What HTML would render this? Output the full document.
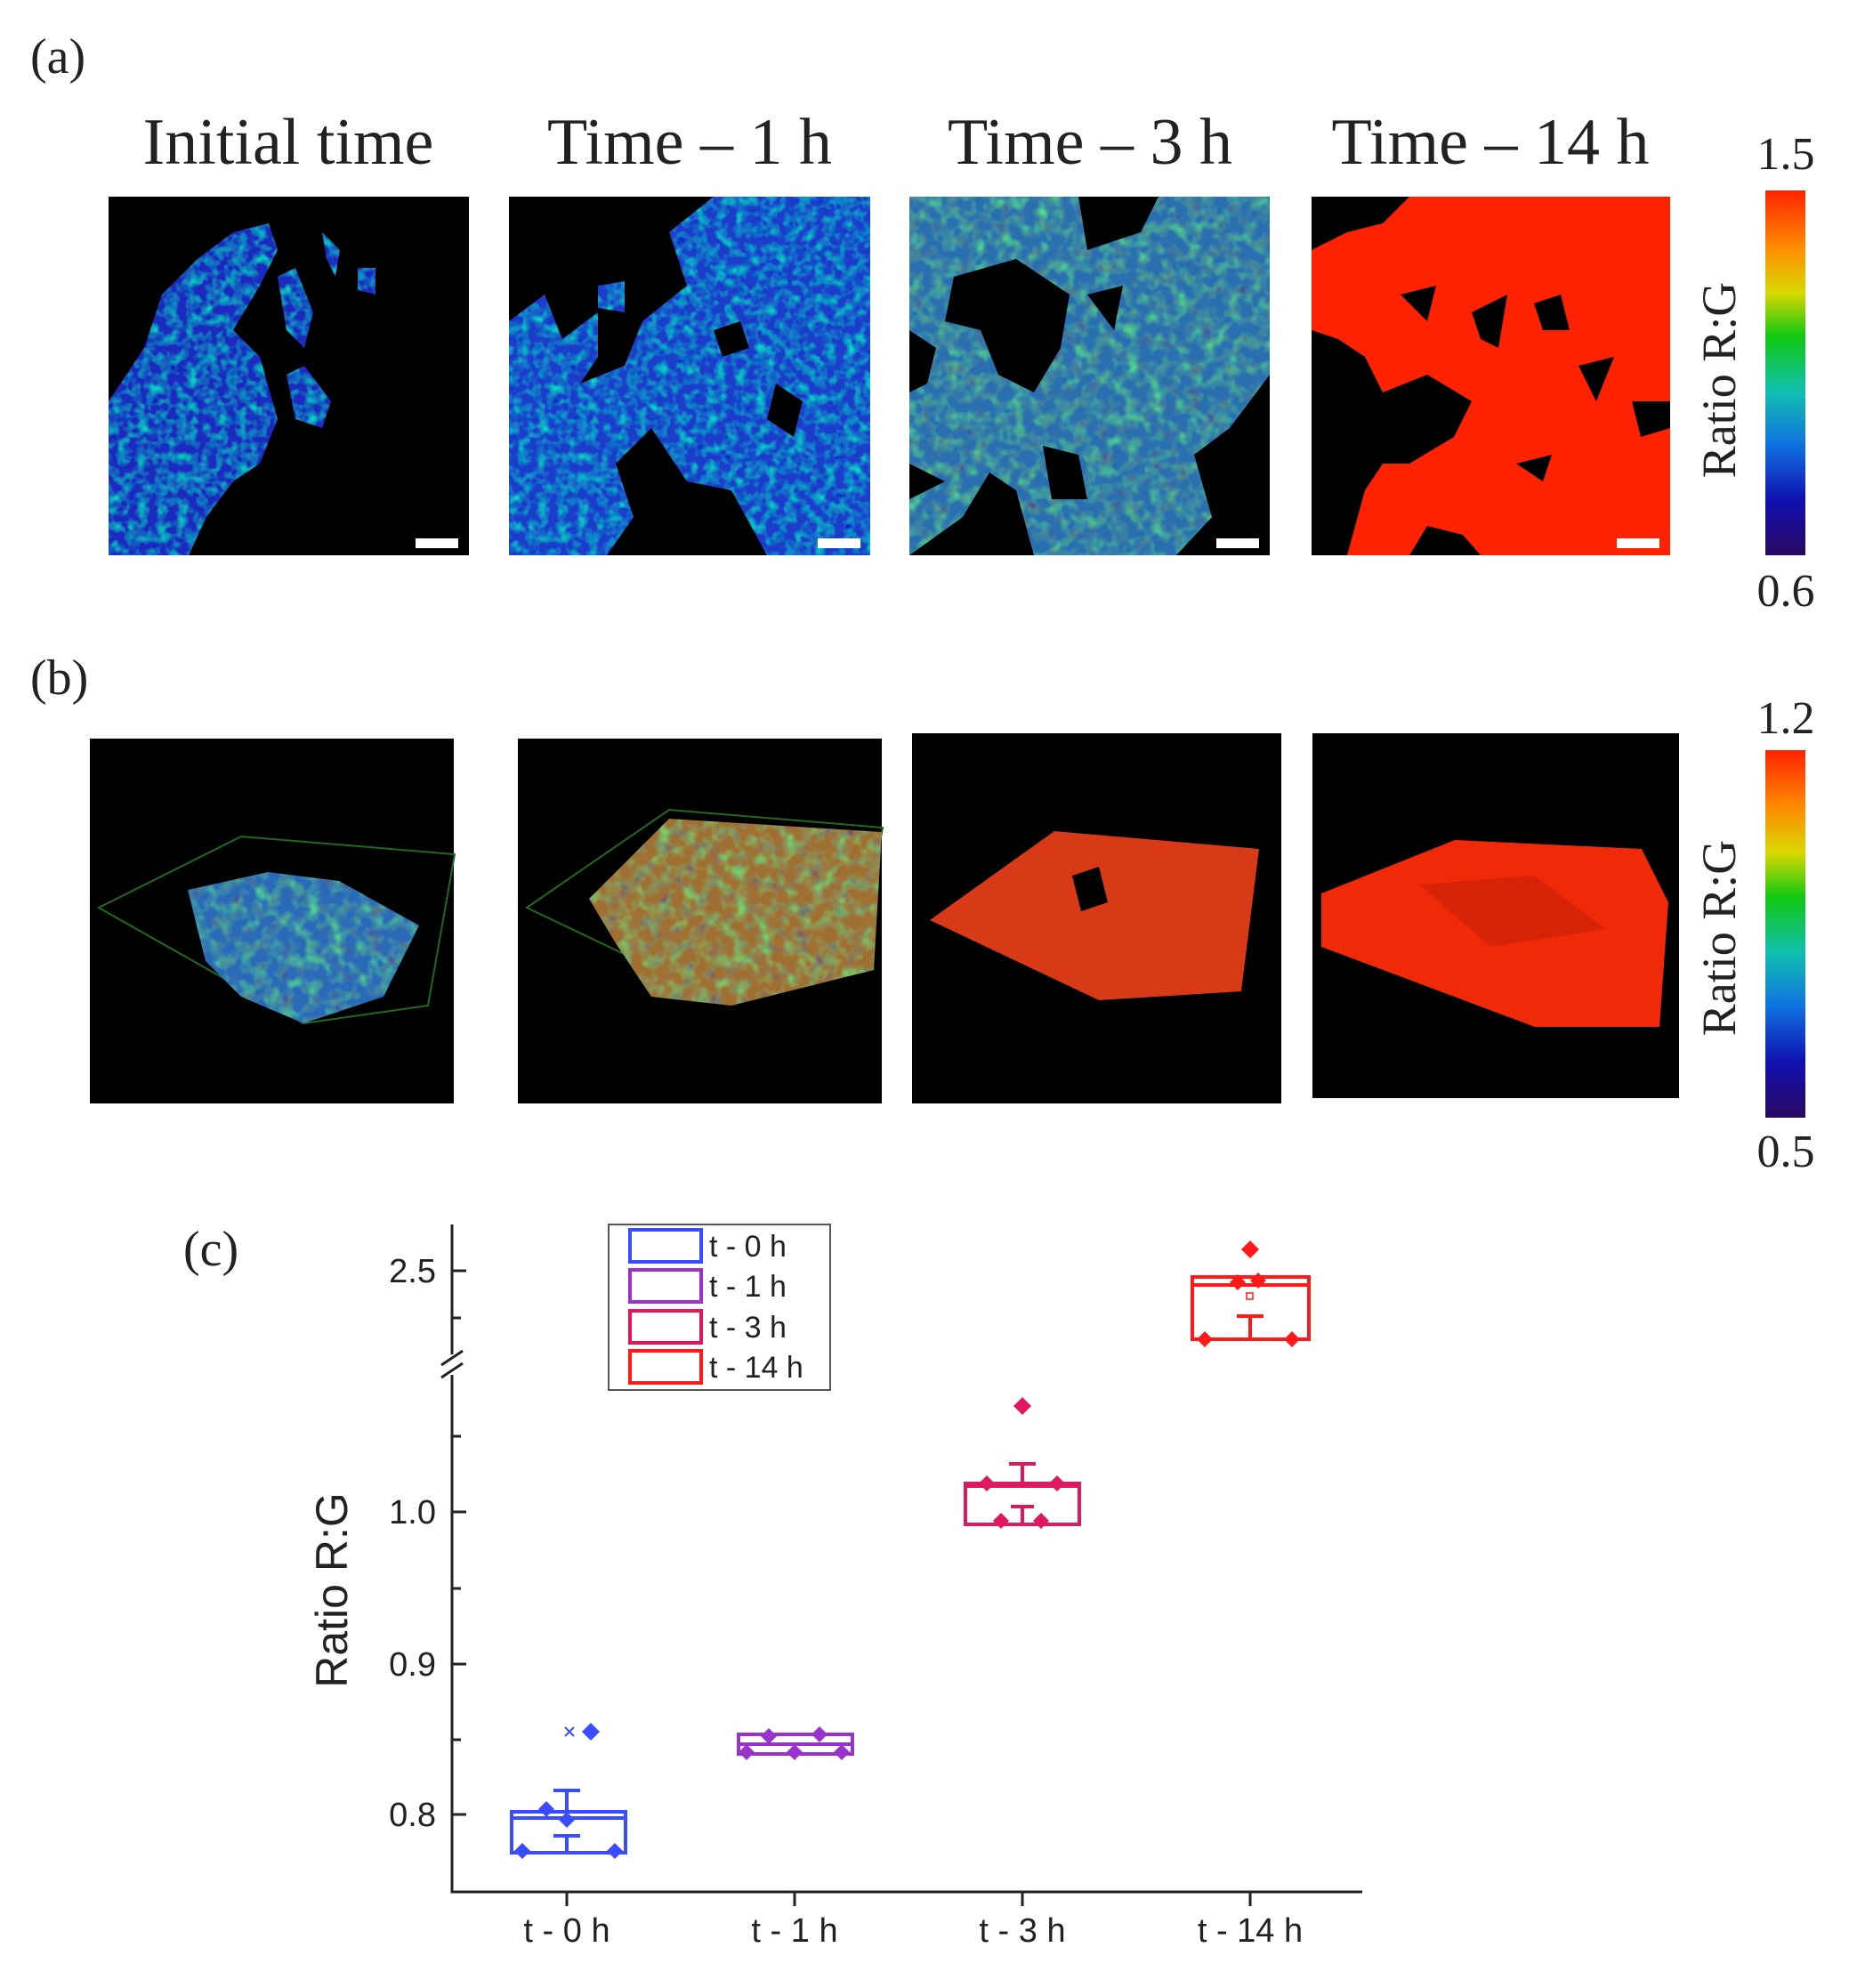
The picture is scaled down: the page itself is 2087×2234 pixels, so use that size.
<!DOCTYPE html>
<html><head><meta charset="utf-8"><style>
html,body{margin:0;padding:0;background:#fff;}
svg{display:block;}
.serif{font-family:"Liberation Serif",serif;fill:#222;}
.sans{font-family:"Liberation Sans",sans-serif;fill:#222;}
</style></head><body>
<svg width="2087" height="2234" viewBox="0 0 2087 2234" xmlns="http://www.w3.org/2000/svg">
<defs>
<linearGradient id="cb" x1="0" y1="0" x2="0" y2="1">
<stop offset="0" stop-color="#ff2200"/><stop offset="0.15" stop-color="#ff8800"/>
<stop offset="0.28" stop-color="#d8d800"/><stop offset="0.4" stop-color="#10c810"/>
<stop offset="0.55" stop-color="#10c0b0"/><stop offset="0.7" stop-color="#1070e0"/>
<stop offset="0.85" stop-color="#1010b0"/><stop offset="1" stop-color="#2a0860"/>
</linearGradient>
<filter id="tex" x="0" y="0" width="1" height="1">
<feTurbulence type="fractalNoise" baseFrequency="0.09" numOctaves="2" seed="3" result="n"/>
<feColorMatrix in="n" type="matrix" values="0 0 0 0 0  0 1.6 0 0 -0.3  0 0 0 0 0.55  1.8 0 0 0 -0.7" result="c"/>
<feComposite in="c" in2="SourceGraphic" operator="in" result="cc"/>
<feMerge><feMergeNode in="SourceGraphic"/><feMergeNode in="cc"/></feMerge>
</filter>
<filter id="tex2" x="0" y="0" width="1" height="1">
<feTurbulence type="fractalNoise" baseFrequency="0.07" numOctaves="2" seed="7" result="n"/>
<feColorMatrix in="n" type="matrix" values="0 0 0 0 0.1  0 1.4 0 0 -0.2  0 0 0 0 0.2  1.8 0 0 0 -0.7" result="c"/>
<feComposite in="c" in2="SourceGraphic" operator="in" result="cc"/>
<feMerge><feMergeNode in="SourceGraphic"/><feMergeNode in="cc"/></feMerge>
</filter>
</defs>

<text class="serif" x="34" y="82" font-size="56">(a)</text>
<text class="serif" x="324" y="184" font-size="74" text-anchor="middle">Initial time</text>
<text class="serif" x="775" y="184" font-size="74" text-anchor="middle">Time – 1 h</text>
<text class="serif" x="1225" y="184" font-size="74" text-anchor="middle">Time – 3 h</text>
<text class="serif" x="1675" y="184" font-size="74" text-anchor="middle">Time – 14 h</text>

<!-- a1 -->
<g transform="translate(122,221)">
<rect width="405" height="403" fill="#000"/>
<path filter="url(#tex)" fill="#1a2cc0" d="M0,230 L40,170 L60,110 L100,70 L140,40 L180,30 L190,60 L170,100 L140,150 L170,180 L190,250 L170,300 L140,320 L110,360 L90,403 L0,403 Z M190,90 L210,80 L230,130 L220,170 L200,150 Z M200,200 L220,190 L250,230 L240,260 L210,250 Z M240,40 L260,60 L255,90 L245,70 Z M280,80 L300,80 L300,110 L280,105 Z"/>
<rect x="345" y="384" width="48" height="11" fill="#fff"/>
</g>
<!-- a2 -->
<g transform="translate(572,221)">
<rect width="406" height="403" fill="#000"/>
<path filter="url(#tex)" fill="#1e3ccc" d="M0,140 L40,110 L60,160 L100,130 L100,180 L80,210 L130,190 L150,140 L200,100 L180,40 L230,0 L406,0 L406,403 L290,403 L250,330 L200,320 L160,260 L120,300 L140,360 L110,403 L0,403 Z M100,100 L130,95 L130,130 L100,125 Z"/>
<path fill="#000" d="M230,150 L260,140 L270,170 L240,180 Z M300,210 L330,230 L320,270 L290,250 Z"/>
<rect x="347" y="384" width="48" height="11" fill="#fff"/>
</g>
<!-- a3 -->
<g transform="translate(1022,221)">
<rect width="405" height="403" fill="#000"/>
<path filter="url(#tex2)" fill="#2a70b0" d="M0,0 L190,0 L200,60 L260,40 L280,0 L405,0 L405,200 L360,260 L320,290 L340,360 L300,403 L140,403 L120,330 L90,310 L60,360 L0,403 Z"/>
<path fill="#000" d="M50,90 L120,70 L180,110 L170,170 L140,220 L100,200 L80,150 L40,140 Z M0,150 L30,170 L20,210 L0,220 Z M200,110 L240,100 L230,150 Z M150,280 L190,290 L200,340 L160,340 Z M350,320 L405,300 L405,403 L360,403 Z M0,300 L40,320 L0,340 Z"/>
<rect x="345" y="384" width="48" height="11" fill="#fff"/>
</g>
<!-- a4 -->
<g transform="translate(1474,221)">
<rect width="403" height="403" fill="#ff2200"/>
<path fill="#000" d="M0,0 L110,0 L80,30 L40,40 L0,60 Z M0,150 L30,160 L60,180 L80,220 L130,200 L180,230 L160,270 L110,300 L80,300 L60,330 L40,403 L0,403 Z M110,403 L130,370 L170,380 L190,403 Z M180,130 L220,110 L210,170 L190,160 Z M250,120 L280,110 L290,150 L260,150 Z M300,190 L340,180 L320,230 Z M360,230 L403,230 L403,260 L370,270 Z M230,300 L270,290 L260,320 Z M100,110 L140,100 L130,140 Z"/>
<rect x="343" y="384" width="48" height="11" fill="#fff"/>
</g>

<!-- colorbar a -->
<rect x="1984" y="214" width="45" height="410" fill="url(#cb)"/>
<text class="serif" x="2007" y="190" font-size="52" text-anchor="middle">1.5</text>
<text class="serif" x="2007" y="681" font-size="52" text-anchor="middle">0.6</text>
<text class="serif" font-size="54" text-anchor="middle" transform="translate(1950,427) rotate(-90)">Ratio R:G</text>

<text class="serif" x="34" y="780" font-size="56">(b)</text>

<!-- b panels -->
<g transform="translate(101,830)">
<rect width="409" height="410" fill="#000"/>
<path d="M10,190 L170,110 L410,130 L380,300 L240,320 Z" fill="none" stroke="#1f6a1f" stroke-width="2"/>
<path filter="url(#tex2)" fill="#2a6ab8" d="M110,170 L200,150 L280,160 L370,210 L330,290 L240,320 L170,290 L130,250 Z"/>
</g>
<g transform="translate(582,830)">
<rect width="409" height="410" fill="#000"/>
<path d="M10,190 L170,80 L410,100 L380,260 L220,290 Z" fill="none" stroke="#1f6a1f" stroke-width="2"/>
<path filter="url(#tex2)" fill="#a07030" d="M80,180 L170,90 L409,105 L400,260 L240,300 L150,290 L110,230 Z"/>
</g>
<g transform="translate(1025,824)">
<rect width="415" height="416" fill="#000"/>
<path fill="#d83a18" d="M20,210 L160,110 L390,130 L370,290 L210,300 Z"/>
<path fill="#000" d="M180,160 L210,150 L220,190 L190,200 Z"/>
</g>
<g transform="translate(1475,824)">
<rect width="412" height="410" fill="#000"/>
<path fill="#f02a08" d="M10,180 L160,120 L370,130 L400,190 L390,330 L250,330 L10,240 Z"/>
<path fill="#c01c08" opacity="0.5" d="M120,170 L250,160 L330,220 L200,240 Z"/>
</g>

<!-- colorbar b -->
<rect x="1984" y="843" width="45" height="413" fill="url(#cb)"/>
<text class="serif" x="2007" y="824" font-size="52" text-anchor="middle">1.2</text>
<text class="serif" x="2007" y="1311" font-size="52" text-anchor="middle">0.5</text>
<text class="serif" font-size="54" text-anchor="middle" transform="translate(1950,1054) rotate(-90)">Ratio R:G</text>

<!-- (c) -->
<text class="serif" x="206" y="1422" font-size="56">(c)</text>
<g stroke="#222" stroke-width="3" fill="none">
<path d="M508,1376 L508,1522 M508,1545 L508,2126 L1531,2126"/>
<path d="M496,1534 L520,1518 M496,1548 L520,1532"/>
<path d="M508,1428 L524,1428 M508,1481 L518,1481 M508,1699 L524,1699 M508,1870 L524,1870 M508,2039 L524,2039 M508,1614 L518,1614 M508,1785 L518,1785 M508,1955 L518,1955"/>
<path d="M637,2126 L637,2142 M893,2126 L893,2142 M1149,2126 L1149,2142 M1405,2126 L1405,2142"/>
</g>
<g class="sans" font-size="38" text-anchor="end">
<text x="490" y="1441">2.5</text><text x="490" y="1712">1.0</text><text x="490" y="1883">0.9</text><text x="490" y="2052">0.8</text>
</g>
<g class="sans" font-size="38" text-anchor="middle">
<text x="637" y="2182">t - 0 h</text><text x="893" y="2182">t - 1 h</text><text x="1149" y="2182">t - 3 h</text><text x="1405" y="2182">t - 14 h</text>
</g>
<text class="sans" font-size="50" text-anchor="middle" transform="translate(390,1787) rotate(-90)">Ratio R:G</text>

<!-- legend -->
<rect x="684" y="1376" width="249" height="186" fill="#fff" stroke="#555" stroke-width="2"/>
<g fill="none" stroke-width="4">
<rect x="708" y="1382" width="80" height="36" stroke="#3b4bff"/>
<rect x="708" y="1427" width="80" height="36" stroke="#9933cc"/>
<rect x="708" y="1473" width="80" height="36" stroke="#e01860"/>
<rect x="708" y="1518" width="80" height="36" stroke="#ff1a1a"/>
</g>
<g class="sans" font-size="34">
<text x="797" y="1412">t - 0 h</text><text x="797" y="1457">t - 1 h</text><text x="797" y="1503">t - 3 h</text><text x="797" y="1548">t - 14 h</text>
</g>

<!-- boxes -->
<g stroke="#3b4bff" fill="none" stroke-width="4">
<rect x="575" y="2036" width="128" height="46"/><path d="M575,2043 L703,2043 M637,2036 L637,2012 M622,2012 L652,2012 M637,2082 L637,2063 M622,2063 L652,2063"/>
<path d="M635,1941 L645,1951 M645,1941 L635,1951" stroke-width="2"/>
</g>
<g fill="#3b4bff"><path d="M614,2024 l9,9 l-9,9 l-9,-9z M637,2036 l9,9 l-9,9 l-9,-9z M587,2071 l9,9 l-9,9 l-9,-9z M691,2071 l9,9 l-9,9 l-9,-9z M664,1936 l10,10 l-10,10 l-10,-10z"/></g>

<g stroke="#9933cc" fill="none" stroke-width="4">
<rect x="830" y="1949" width="128" height="22"/><path d="M830,1960 L958,1960"/>
</g>
<g fill="#9933cc"><path d="M864,1942 l9,9 l-9,9 l-9,-9z M893,1960 l9,9 l-9,9 l-9,-9z M921,1940 l9,9 l-9,9 l-9,-9z M839,1960 l9,9 l-9,9 l-9,-9z M946,1960 l9,9 l-9,9 l-9,-9z"/></g>

<g stroke="#e01860" fill="none" stroke-width="4">
<rect x="1085" y="1667" width="128" height="46"/><path d="M1085,1670 L1213,1670 M1149,1667 L1149,1645 M1134,1645 L1164,1645 M1149,1713 L1149,1693 M1136,1693 L1162,1693"/>
</g>
<g fill="#e01860"><path d="M1109,1658 l9,9 l-9,9 l-9,-9z M1188,1658 l9,9 l-9,9 l-9,-9z M1125,1700 l9,9 l-9,9 l-9,-9z M1170,1700 l9,9 l-9,9 l-9,-9z M1149,1570 l10,10 l-10,10 l-10,-10z"/></g>

<g stroke="#ff1a1a" fill="none" stroke-width="4">
<rect x="1340" y="1435" width="131" height="70"/><path d="M1340,1444 L1471,1444 M1405,1505 L1405,1479 M1390,1479 L1420,1479"/>
<rect x="1401" y="1453" width="7" height="7" stroke-width="1.5"/>
</g>
<g fill="#ff1a1a"><path d="M1354,1496 l9,9 l-9,9 l-9,-9z M1452,1496 l9,9 l-9,9 l-9,-9z M1391,1432 l9,9 l-9,9 l-9,-9z M1414,1430 l9,9 l-9,9 l-9,-9z M1405,1394 l10,10 l-10,10 l-10,-10z"/></g>
</svg>
</body></html>
